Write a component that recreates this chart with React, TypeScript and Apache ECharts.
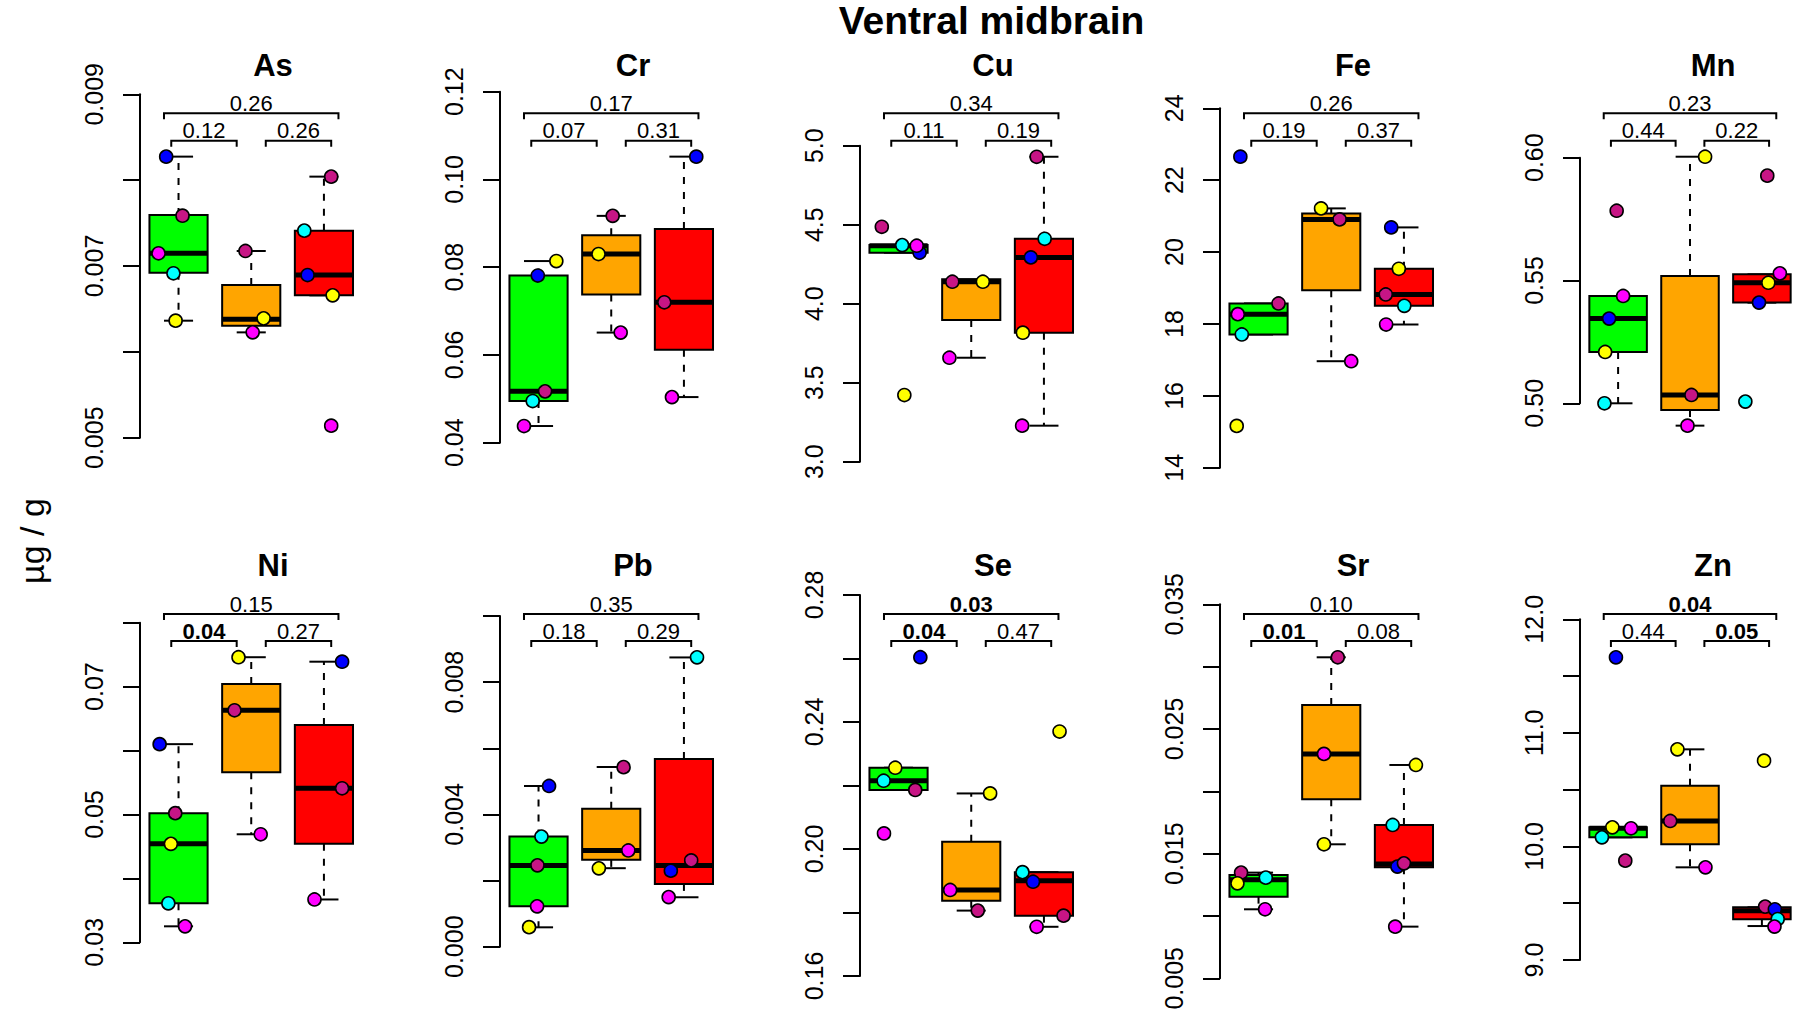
import React, { useEffect, useRef } from "react";
import * as echarts from "echarts";

const FONT = "'Liberation Sans', Arial, Helvetica, sans-serif";

// ---------- text ----------
const mainTitle = "Ventral midbrain";
const yAxisTitle = "µg / g";
const elementNames = ["As", "Cr", "Cu", "Fe", "Mn", "Ni", "Pb", "Se", "Sr", "Zn"];

// ---------- colours ----------
const groupFill = ["#00FF00", "#FFA500", "#FF0000"];
const subjectColor = ["#0000FF", "#C71585", "#00FFFF", "#FFFF00", "#FF00FF"];
const B = 0, V = 1, C = 2, Y = 3, M = 4;

// ---------- box statistics: [lower whisker, Q1, median, Q3, upper whisker] for green, orange, red ----------
const asStats = [
  [0.006363, 0.006922, 0.007148, 0.007594, 0.008274],
  [0.006227, 0.006305, 0.006379, 0.006779, 0.007175],
  [0.006658, 0.006658, 0.006895, 0.007412, 0.008041],
];
const crStats = [
  [0.0438, 0.0495, 0.0517, 0.0781, 0.0814],
  [0.0651, 0.0738, 0.083, 0.0873, 0.0917],
  [0.0504, 0.0612, 0.072, 0.0887, 0.1052],
];
const cuStats = [
  [4.323, 4.323, 4.367, 4.371, 4.371],
  [3.658, 3.897, 4.139, 4.154, 4.154],
  [3.228, 3.8165, 4.293, 4.411, 4.93],
];
const feStats = [
  [17.708, 17.708, 18.274, 18.571, 18.571],
  [16.965, 18.942, 20.91, 21.077, 21.216],
  [17.986, 18.506, 18.821, 19.536, 20.687],
];
const mnStats = [
  [0.5, 0.5209, 0.5345, 0.5437, 0.5437],
  [0.4909, 0.4973, 0.5034, 0.5518, 0.6004],
  [0.541, 0.541, 0.5491, 0.5525, 0.5525],
];
const niStats = [
  [0.0325, 0.0361, 0.0454, 0.0502, 0.061],
  [0.0469, 0.0566, 0.0663, 0.0704, 0.0746],
  [0.0367, 0.0454, 0.0541, 0.064, 0.0739],
];
const pbStats = [
  [0.000586, 0.001222, 0.002455, 0.003333, 0.004859],
  [0.002374, 0.002626, 0.002909, 0.004172, 0.005434],
  [0.001495, 0.001899, 0.002455, 0.005677, 0.008747],
];
const seStats = [
  [0.2186, 0.2186, 0.2215, 0.2256, 0.2256],
  [0.1806, 0.1837, 0.1871, 0.2023, 0.2175],
  [0.1755, 0.179, 0.19, 0.1927, 0.1927],
];
const srStats = [
  [0.010535, 0.011551, 0.0129, 0.013289, 0.013476],
  [0.015749, 0.019358, 0.022995, 0.026925, 0.030749],
  [0.009144, 0.013904, 0.014171, 0.017299, 0.022112],
];
const znStats = [
  [10.08, 10.08, 10.16, 10.168, 10.168],
  [9.816, 10.019, 10.224, 10.535, 10.855],
  [9.299, 9.358, 9.434, 9.464, 9.464],
];

// ---------- individual points: [group (0 green, 1 orange, 2 red), jitter, value, subject] ----------
const asPoints = [
  [0, -0.17, 0.008274, B], [0, 0.055, 0.007586, V], [0, -0.275, 0.007148, M], [0, -0.07, 0.006915, C], [0, -0.04, 0.006363, Y],
  [1, -0.08, 0.007175, V], [1, 0.17, 0.00639, Y], [1, 0.02, 0.006227, M],
  [2, 0.1, 0.008041, V], [2, -0.27, 0.007412, C], [2, -0.225, 0.006895, B], [2, 0.12, 0.006658, Y], [2, 0.1, 0.00514, M],
];
const crPoints = [
  [0, 0.245, 0.0814, Y], [0, -0.01, 0.0781, B], [0, 0.09, 0.0517, V], [0, -0.08, 0.0495, C], [0, -0.2, 0.0438, M],
  [1, 0.02, 0.0917, V], [1, -0.175, 0.083, Y], [1, 0.13, 0.0651, M],
  [2, 0.17, 0.1052, B], [2, -0.27, 0.072, V], [2, -0.165, 0.0504, M],
];
const cuPoints = [
  [0, -0.23, 4.487, V], [0, 0.05, 4.371, C], [0, 0.29, 4.323, B], [0, 0.25, 4.367, M], [0, 0.08, 3.422, Y],
  [1, -0.26, 4.139, V], [1, 0.16, 4.139, Y], [1, -0.3, 3.658, M],
  [2, -0.1, 4.93, V], [2, 0.01, 4.411, C], [2, -0.18, 4.293, B], [2, -0.29, 3.8165, Y], [2, -0.3, 3.228, M],
];
const fePoints = [
  [0, -0.25, 22.654, B], [0, 0.275, 18.571, V], [0, -0.285, 18.274, M], [0, -0.23, 17.708, C], [0, -0.3, 15.165, Y],
  [1, -0.14, 21.216, Y], [1, 0.115, 20.91, V], [1, 0.275, 16.965, M],
  [2, -0.175, 20.687, B], [2, -0.07, 19.536, Y], [2, -0.25, 18.821, V], [2, 0.005, 18.506, C], [2, -0.245, 17.986, M],
];
const mnPoints = [
  [0, -0.02, 0.5784, V], [0, 0.07, 0.5437, M], [0, -0.125, 0.5345, B], [0, -0.18, 0.5209, Y], [0, -0.19, 0.5, C],
  [1, 0.21, 0.6004, Y], [1, 0.02, 0.5034, V], [1, -0.035, 0.4909, M],
  [2, 0.075, 0.5927, V], [2, 0.25, 0.5529, M], [2, 0.09, 0.5491, Y], [2, -0.04, 0.541, B], [2, -0.23, 0.5007, C],
];
const niPoints = [
  [0, -0.26, 0.061, B], [0, -0.045, 0.0502, V], [0, -0.105, 0.0454, Y], [0, -0.14, 0.0361, C], [0, 0.09, 0.0325, M],
  [1, -0.175, 0.0746, Y], [1, -0.23, 0.0663, V], [1, 0.13, 0.0469, M],
  [2, 0.25, 0.0739, B], [2, 0.25, 0.0541, V], [2, -0.13, 0.0367, M],
];
const pbPoints = [
  [0, 0.145, 0.00486, B], [0, 0.04, 0.00333, C], [0, -0.015, 0.00246, V], [0, -0.02, 0.00122, M], [0, -0.13, 0.00059, Y],
  [1, 0.17, 0.00543, V], [1, 0.235, 0.00291, M], [1, -0.17, 0.00237, Y],
  [2, 0.18, 0.00875, C], [2, 0.1, 0.00261, V], [2, -0.18, 0.0023, B], [2, -0.21, 0.0015, M],
];
const sePoints = [
  [0, 0.3, 0.2604, B], [0, -0.045, 0.2256, Y], [0, -0.205, 0.2215, C], [0, 0.23, 0.2186, V], [0, -0.2, 0.2049, M],
  [1, 0.26, 0.2175, Y], [1, -0.29, 0.1871, M], [1, 0.09, 0.1806, V],
  [2, 0.215, 0.237, Y], [2, -0.295, 0.1927, C], [2, -0.15, 0.1897, B], [2, 0.27, 0.179, V], [2, -0.1, 0.1755, M],
];
const srPoints = [
  [0, -0.24, 0.013476, V], [0, 0.1, 0.013075, C], [0, -0.29, 0.01262, Y], [0, 0.09, 0.010535, M],
  [1, 0.09, 0.03075, V], [1, -0.1, 0.023, M], [1, -0.1, 0.01575, Y],
  [2, 0.165, 0.02211, Y], [2, -0.155, 0.0173, C], [2, -0.09, 0.01396, B], [2, 0.0, 0.01422, V], [2, -0.12, 0.00914, M],
];
const znPoints = [
  [0, -0.03, 11.665, B], [0, -0.08, 10.168, Y], [0, 0.18, 10.16, M], [0, -0.225, 10.08, C], [0, 0.1, 9.875, V],
  [1, -0.175, 10.855, Y], [1, -0.275, 10.224, V], [1, 0.215, 9.816, M],
  [2, 0.03, 10.755, Y], [2, 0.045, 9.47, V], [2, 0.18, 9.446, B], [2, 0.22, 9.361, C], [2, 0.175, 9.294, M],
];

// ---------- y-axis ticks and their labels ----------
const asTicks = [0.005, 0.006, 0.007, 0.008, 0.009];
const asTickLabels = ["0.005", "", "0.007", "", "0.009"];
const crTicks = [0.04, 0.06, 0.08, 0.1, 0.12];
const crTickLabels = ["0.04", "0.06", "0.08", "0.10", "0.12"];
const cuTicks = [3.0, 3.5, 4.0, 4.5, 5.0];
const cuTickLabels = ["3.0", "3.5", "4.0", "4.5", "5.0"];
const feTicks = [14, 16, 18, 20, 22, 24];
const feTickLabels = ["14", "16", "18", "20", "22", "24"];
const mnTicks = [0.5, 0.55, 0.6];
const mnTickLabels = ["0.50", "0.55", "0.60"];
const niTicks = [0.03, 0.04, 0.05, 0.06, 0.07, 0.08];
const niTickLabels = ["0.03", "", "0.05", "", "0.07", ""];
const pbTicks = [0.0, 0.002, 0.004, 0.006, 0.008, 0.01];
const pbTickLabels = ["0.000", "", "0.004", "", "0.008", ""];
const seTicks = [0.16, 0.18, 0.2, 0.22, 0.24, 0.26, 0.28];
const seTickLabels = ["0.16", "", "0.20", "", "0.24", "", "0.28"];
const srTicks = [0.005, 0.01, 0.015, 0.02, 0.025, 0.03, 0.035];
const srTickLabels = ["0.005", "", "0.015", "", "0.025", "", "0.035"];
const znTicks = [9.0, 9.5, 10.0, 10.5, 11.0, 11.5, 12.0];
const znTickLabels = ["9.0", "", "10.0", "", "11.0", "", "12.0"];

// ---------- p-values: green vs orange, orange vs red, green vs red ----------
const pGreenOrange = ["0.12", "0.07", "0.11", "0.19", "0.44", "0.04", "0.18", "0.04", "0.01", "0.44"];
const pOrangeRed = ["0.26", "0.31", "0.19", "0.37", "0.22", "0.27", "0.29", "0.47", "0.08", "0.05"];
const pGreenRed = ["0.26", "0.17", "0.34", "0.26", "0.23", "0.15", "0.35", "0.03", "0.10", "0.04"];

const panels = [
  { stats: asStats, points: asPoints, ticks: asTicks, labels: asTickLabels },
  { stats: crStats, points: crPoints, ticks: crTicks, labels: crTickLabels },
  { stats: cuStats, points: cuPoints, ticks: cuTicks, labels: cuTickLabels },
  { stats: feStats, points: fePoints, ticks: feTicks, labels: feTickLabels },
  { stats: mnStats, points: mnPoints, ticks: mnTicks, labels: mnTickLabels },
  { stats: niStats, points: niPoints, ticks: niTicks, labels: niTickLabels },
  { stats: pbStats, points: pbPoints, ticks: pbTicks, labels: pbTickLabels },
  { stats: seStats, points: sePoints, ticks: seTicks, labels: seTickLabels },
  { stats: srStats, points: srPoints, ticks: srTicks, labels: srTickLabels },
  { stats: znStats, points: znPoints, ticks: znTicks, labels: znTickLabels },
];

// ---------- layout (pixels) ----------
const X_MIN = 0.47;
const X_MAX = 3.53;
const UNIT_PX = 72.7;
const GRID_W = (X_MAX - X_MIN) * UNIT_PX;
const BOX_W = 0.8;
const tickTopPx = [94.3, 91.7, 145.7, 108.3, 157.7, 622.7, 616, 595, 604.3, 619.3];
const tickBottomPx = [437.7, 442.7, 461.7, 467.8, 403.3, 942.3, 946.7, 976, 978.3, 960];
const axisXPx = (i: number) => 140 + (i % 5) * 360;
const rowTitleY = [65, 565];
const rowTopBracketY = [113.3, 614];
const rowLowBracketY = [140.7, 641];

function isBold(p: string) {
  return parseFloat(p) <= 0.05;
}

function buildOption() {
  const grid: any[] = [];
  const xAxis: any[] = [];
  const yAxis: any[] = [];
  const series: any[] = [];
  panels.forEach((p, i) => {
    const n = p.ticks.length;
    const step = p.ticks[1] - p.ticks[0];
    grid.push({
      left: axisXPx(i),
      top: tickTopPx[i],
      width: GRID_W,
      height: tickBottomPx[i] - tickTopPx[i],
    });
    xAxis.push({ type: "value", gridIndex: i, min: X_MIN, max: X_MAX, show: false });
    yAxis.push({
      type: "value",
      gridIndex: i,
      min: p.ticks[0],
      max: p.ticks[n - 1],
      interval: step,
      axisLine: { show: true, lineStyle: { color: "#000", width: 2 } },
      axisTick: { show: true, length: 17, lineStyle: { color: "#000", width: 2 } },
      splitLine: { show: false },
      axisLabel: {
        rotate: 90,
        margin: 34,
        fontSize: 25,
        color: "#000",
        fontFamily: FONT,
        formatter: (v: number) => {
          const k = Math.round((v - p.ticks[0]) / step);
          return p.labels[k] ?? "";
        },
      },
    });
    series.push({
      type: "custom",
      xAxisIndex: i,
      yAxisIndex: i,
      clip: false,
      z: 2,
      data: p.stats.map((s, g) => [g + 1, s[0], s[1], s[2], s[3], s[4], g]),
      renderItem: (params: any, api: any) => {
        const x = api.value(0);
        const wl = api.value(1), q1 = api.value(2), md = api.value(3), q3 = api.value(4), wh = api.value(5);
        const g = api.value(6);
        const cx = api.coord([x, md])[0];
        const half = api.size([BOX_W, 0])[0] / 2;
        const sHalf = half / 2;
        const yWl = api.coord([x, wl])[1];
        const yQ1 = api.coord([x, q1])[1];
        const yMd = api.coord([x, md])[1];
        const yQ3 = api.coord([x, q3])[1];
        const yWh = api.coord([x, wh])[1];
        const solid = { stroke: "#000", lineWidth: 2 };
        const dashed = { stroke: "#000", lineWidth: 2, lineDash: [7, 8] };
        return {
          type: "group",
          children: [
            { type: "line", shape: { x1: cx, y1: yQ3, x2: cx, y2: yWh }, style: dashed },
            { type: "line", shape: { x1: cx, y1: yQ1, x2: cx, y2: yWl }, style: dashed },
            { type: "line", shape: { x1: cx - sHalf, y1: yWh, x2: cx + sHalf, y2: yWh }, style: solid },
            { type: "line", shape: { x1: cx - sHalf, y1: yWl, x2: cx + sHalf, y2: yWl }, style: solid },
            {
              type: "rect",
              shape: { x: cx - half, y: yQ3, width: 2 * half, height: yQ1 - yQ3 },
              style: { fill: groupFill[g], stroke: "#000", lineWidth: 2 },
            },
            {
              type: "line",
              shape: { x1: cx - half, y1: yMd, x2: cx + half, y2: yMd },
              style: { stroke: "#000", lineWidth: 5, lineCap: "butt" },
            },
          ],
        };
      },
    });
    series.push({
      type: "scatter",
      xAxisIndex: i,
      yAxisIndex: i,
      clip: false,
      z: 3,
      symbol: "circle",
      symbolSize: 13,
      data: p.points.map((pt) => ({
        value: [pt[0] + 1 + pt[1], pt[2]],
        itemStyle: { color: subjectColor[pt[3]] },
      })),
      itemStyle: { borderColor: "#000", borderWidth: 1.6, opacity: 1 },
      emphasis: { disabled: true },
    });
  });
  return {
    animation: false,
    backgroundColor: "#fff",
    grid,
    xAxis,
    yAxis,
    series,
  };
}

function txt(x: number, y: number, text: string, size: number, bold: boolean, rotation = 0) {
  return {
    type: "text",
    x,
    y,
    rotation,
    silent: true,
    style: {
      text,
      fill: "#000",
      font: `${bold ? "bold " : ""}${size}px ${FONT}`,
      textAlign: "center",
      textVerticalAlign: "middle",
      align: "center",
      verticalAlign: "middle",
    },
  };
}

export default function App() {
  const ref = useRef<HTMLDivElement>(null);
  useEffect(() => {
    const chart = echarts.init(ref.current as HTMLDivElement, null, { renderer: "svg" });
    chart.setOption(buildOption());
    const graphic: any[] = [];
    graphic.push(txt(991.5, 20, mainTitle, 39, true));
    graphic.push(txt(32, 541, yAxisTitle, 34, false, Math.PI / 2));
    panels.forEach((p, i) => {
      const row = i < 5 ? 0 : 1;
      const px = (u: number) => (chart.convertToPixel({ gridIndex: i } as any, [u, p.ticks[0]]) as number[])[0];
      graphic.push(txt(axisXPx(i) + 133, rowTitleY[row], elementNames[i], 31, true));
      const brackets: [number, number, number, string][] = [
        [0.8, 3.2, rowTopBracketY[row], pGreenRed[i]],
        [0.9, 1.8, rowLowBracketY[row], pGreenOrange[i]],
        [2.2, 3.1, rowLowBracketY[row], pOrangeRed[i]],
      ];
      brackets.forEach(([a, b, y, pv]) => {
        const x1 = px(a);
        const x2 = px(b);
        graphic.push({
          type: "polyline",
          silent: true,
          shape: { points: [[x1, y + 6], [x1, y], [x2, y], [x2, y + 6]] },
          style: { stroke: "#000", lineWidth: 2, fill: null },
        });
        graphic.push(txt((x1 + x2) / 2, y - 9.8, pv, 22, isBold(pv)));
      });
    });
    chart.setOption({ graphic });
    return () => chart.dispose();
  }, []);
  return (
    <div
      ref={ref}
      style={{ position: "absolute", left: 0, top: 0, width: 1800, height: 1017, background: "#fff" }}
    />
  );
}
